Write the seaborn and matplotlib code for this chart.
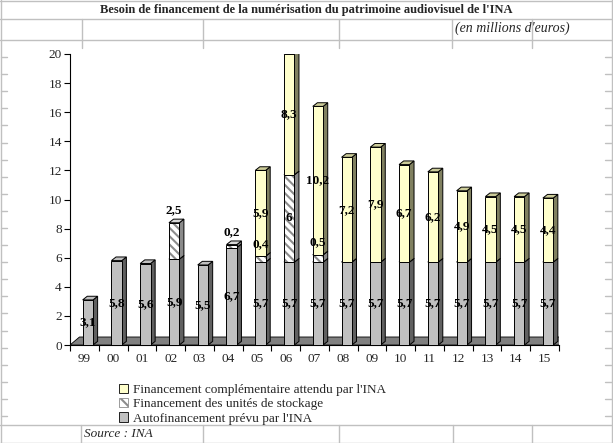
import numpy as np
import pandas as pd
import matplotlib
matplotlib.use("Agg")
import matplotlib.pyplot as plt
from matplotlib.patches import Polygon, Patch, Rectangle
from matplotlib.lines import Line2D
import seaborn as sns

# Data (millions d'euros)
annees = ["99", "00", "01", "02", "03", "04", "05", "06", "07",
          "08", "09", "10", "11", "12", "13", "14", "15"]
autofinancement = [3.1, 5.8, 5.6, 5.9, 5.5, 6.7, 5.7, 5.7, 5.7,
                   5.7, 5.7, 5.7, 5.7, 5.7, 5.7, 5.7, 5.7]
stockage = [0, 0, 0, 2.5, 0, 0.2, 0.4, 6, 0.5,
            0, 0, 0, 0, 0, 0, 0, 0]
complementaire = [0, 0, 0, 0, 0, 0, 5.9, 8.3, 10.2,
                  7.2, 7.9, 6.7, 6.2, 4.9, 4.5, 4.5, 4.4]

lbl_compl = "Financement complémentaire attendu par l'INA"
lbl_stock = "Financement des unités de stockage"
lbl_auto = "Autofinancement prévu par l'INA"

sns.set_theme(style="white")
plt.rcParams["font.family"] = ["Liberation Serif", "DejaVu Serif"]
plt.rcParams["hatch.linewidth"] = 1.5

W, H = 613, 443
GRID = "#c0c0c0"
HATCH_GREY = "#8c8c8c"


def fx(x):
    return x / W


def fy(y):
    return 1 - y / H


fig = plt.figure(figsize=(W / 100, H / 100), dpi=100)
fig.patch.set_facecolor("white")


# spreadsheet cell lines behind the chart
def hline(y, x0=0, x1=W):
    fig.add_artist(Line2D([fx(x0), fx(x1)], [fy(y), fy(y)], color=GRID, lw=1))


def vline(x, y0, y1):
    fig.add_artist(Line2D([fx(x), fx(x)], [fy(y0), fy(y1)], color=GRID, lw=1))


hline(0.5)
hline(18.5)
hline(40)
hline(425)
hline(442.5)
vline(1, 0, H)
vline(612, 0, H)
for xc in [82, 203, 339, 452, 532]:
    vline(xc, 18.5, 48)
for xc in [81, 203, 339, 453, 532]:
    vline(xc, 425, H)
for yr in np.arange(57, 425, 17.1):
    hline(yr, 1, 7)
    hline(yr, 605, 612)

ax = fig.add_axes([fx(70), fy(345), fx(559) - fx(70), fy(54) - fy(345)])
ax.set_facecolor("none")

auto = np.array(autofinancement)
stock = np.array(stockage)
compl = np.array(complementaire)

bw = 0.36
sns.barplot(x=annees, y=auto, color="#C0C0C0", saturation=1, width=bw,
            edgecolor="black", linewidth=0.7, ax=ax, zorder=3)
sns.barplot(x=annees, y=stock, bottom=auto, color="white", saturation=1,
            width=bw, hatch="\\\\\\\\", edgecolor=HATCH_GREY, linewidth=0,
            ax=ax, zorder=4)
sns.barplot(x=annees, y=compl, bottom=auto + stock, color="#FFFFCC",
            saturation=1, width=bw, edgecolor="black", linewidth=0.7,
            ax=ax, zorder=5)

n = len(annees)
shift = 0.12
dx, dy = 0.16, 0.25
side_cols = ["#606060", "#8a8a8a", "#808060"]
top_cols = ["#C0C0C0", "#d8d8d8", "#CCCC99"]
bars = list(ax.patches)
for k, p in enumerate(bars):
    layer = k // n
    p.set_x(p.get_x() + shift)
    h = p.get_height()
    if h <= 0:
        p.set_visible(False)
        continue
    x0, y0, w = p.get_x(), p.get_y(), p.get_width()
    z = 3 + layer
    if layer == 1:
        # black outline over the grey-hatched segment
        ax.add_patch(Rectangle((x0, y0), w, h, fill=False, edgecolor="black",
                               lw=0.7, zorder=z + 0.1))
    side = Polygon([(x0 + w, y0), (x0 + w + dx, y0 + dy),
                    (x0 + w + dx, y0 + h + dy), (x0 + w, y0 + h)],
                   closed=True, facecolor=side_cols[layer], edgecolor="black",
                   lw=0.7, zorder=z - 0.5)
    top = Polygon([(x0, y0 + h), (x0 + dx, y0 + h + dy),
                   (x0 + w + dx, y0 + h + dy), (x0 + w, y0 + h)],
                  closed=True, facecolor=top_cols[layer], edgecolor="black",
                  lw=0.7, zorder=z - 0.5)
    ax.add_patch(side)
    ax.add_patch(top)

# floor
floor = Polygon([(-0.5, 0), (n - 0.5, 0), (n - 0.5 + 0.33, 0.55),
                 (-0.5 + 0.33, 0.55)], closed=True, facecolor="#808080",
                edgecolor="black", lw=0.6, zorder=2)
ax.add_patch(floor)


def fmt(v):
    return f"{v:g}".replace(".", ",")


lab = dict(ha="center", va="center", fontsize=9.5, fontweight="bold",
           color="black", zorder=10)
for i in range(n):
    xc = i + shift
    ax.text(xc, auto[i] / 2, fmt(auto[i]), **lab)
    if stock[i] > 0:
        if stock[i] >= 5:
            ax.text(xc, auto[i] + stock[i] / 2, fmt(stock[i]), **lab)
        else:
            ax.text(xc, auto[i] + stock[i] + 0.85, fmt(stock[i]), **lab)
    if compl[i] > 0:
        ax.text(xc, auto[i] + stock[i] + compl[i] / 2, fmt(compl[i]), **lab)

ax.set_xlim(-0.5, n - 0.5)
ax.set_ylim(0, 20)
ax.set_yticks(range(0, 21, 2))
ax.set_xticks(range(n))
ax.set_xticklabels(annees)
ax.set_xticks(np.arange(-0.5, n, 1), minor=True)
ax.tick_params(axis="x", which="major", length=0, pad=6, labelsize=9.5)
ax.tick_params(axis="x", which="minor", length=4, width=0.8, color="black",
               direction="out", bottom=True)
ax.tick_params(axis="y", length=4, width=0.8, color="black", direction="out",
               left=True, labelsize=9.5, pad=2)
ax.set_xlabel("")
ax.set_ylabel("")
for s in ["top", "right"]:
    ax.spines[s].set_visible(False)
for s in ["left", "bottom"]:
    ax.spines[s].set_color("black")
    ax.spines[s].set_linewidth(0.8)
    ax.spines[s].set_zorder(1)

fig.text(fx(306), fy(10),
         "Besoin de financement de la numérisation du patrimoine audiovisuel de l'INA",
         ha="center", va="center", fontsize=9, fontweight="bold")
fig.text(fx(455), fy(28), "(en millions d'euros)", ha="left", va="center",
         fontsize=10, style="italic")
fig.text(fx(84), fy(434), "Source : INA", ha="left", va="center",
         fontsize=9.5, style="italic")

handles = [Patch(facecolor="#FFFFCC", edgecolor="black", lw=0.6),
           Patch(facecolor="white", edgecolor=HATCH_GREY, lw=0.6, hatch="\\\\\\"),
           Patch(facecolor="#C0C0C0", edgecolor="black", lw=0.6)]
fig.legend(handles, [lbl_compl, lbl_stock, lbl_auto], loc="upper left",
           bbox_to_anchor=(fx(119), fy(384)), frameon=False, fontsize=9.5,
           handlelength=0.7, handleheight=0.7, handletextpad=0.35,
           labelspacing=0.15, borderaxespad=0, borderpad=0)

fig.savefig("out.png", dpi=100)
